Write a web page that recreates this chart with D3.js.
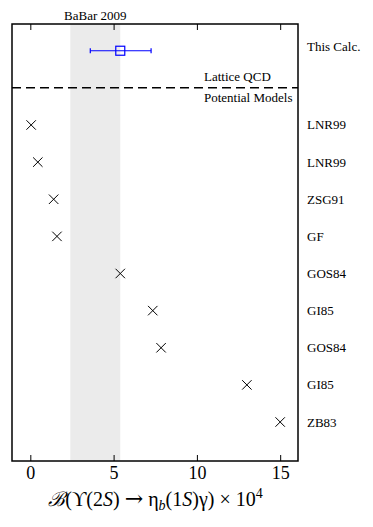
<!DOCTYPE html>
<html>
<head>
<meta charset="utf-8">
<script src="https://cdn.jsdelivr.net/npm/d3@7"></script>
<style>
body { margin: 0; background: #fff; }
text { font-family: "Liberation Serif", "Times New Roman", Times, serif; }
</style>
</head>
<body>
<div id="chart"></div>
<script>
//Data
let labels = ["ZB83", "GI85", "GOS84", "GI85", "GOS84", "GF", "ZSG91", "LNR99", "LNR99"];
let values = [15.0, 13.0, 7.85, 7.35, 5.4, 1.6, 1.4, 0.45, 0.05];
let calcLabel = "This Calc.";
let calcValue = 5.4;
let calcErr = [3.6, 7.25];
let babar = [2.4, 5.4];
let babarCenter = 3.9;
let xTicks = [0, 5, 10, 15];

//Dimensions
let width = 373;
let height = 527;
let plotLeft = 12, plotRight = 298, plotTop = 24, plotBottom = 461;
let calcRow = 10, splitRow = 9;

let svg = d3.select("#chart").append("svg")
	.attr("width", width)
	.attr("height", height);

let x = d3.scaleLinear().domain([-1.1, 16.07]).range([plotLeft, plotRight]);
let y = d3.scaleLinear().domain([-1.05, 10.72]).range([plotBottom, plotTop]);

//BaBar band
svg.append("rect")
	.attr("x", x(babar[0]))
	.attr("y", plotTop)
	.attr("width", x(babar[1]) - x(babar[0]))
	.attr("height", plotBottom - plotTop)
	.attr("fill", "#ebebeb");

svg.append("text")
	.attr("x", x(babarCenter))
	.attr("y", plotTop - 4)
	.attr("text-anchor", "middle")
	.style("font-size", "13px")
	.text("BaBar 2009");

//Dashed separator
svg.append("line")
	.attr("x1", plotLeft).attr("x2", plotRight)
	.attr("y1", y(splitRow)).attr("y2", y(splitRow))
	.attr("stroke", "black")
	.attr("stroke-width", 1.5)
	.attr("stroke-dasharray", "9,5");

svg.append("text")
	.attr("x", 204).attr("y", y(splitRow) - 7)
	.style("font-size", "13px")
	.text("Lattice QCD");

svg.append("text")
	.attr("x", 204).attr("y", y(splitRow) + 14)
	.style("font-size", "13px")
	.text("Potential Models");

//Crosses
let cross = d3.symbol().type(d3.symbolX).size(60);
svg.selectAll(".model")
		.data(values)
	.enter()
		.append("path")
			.attr("class", "model")
			.attr("d", cross)
			.attr("transform", function(d, i){
				return "translate(" + x(d) + "," + y(i) + ")";
			})
			.attr("fill", "none")
			.attr("stroke", "black")
			.attr("stroke-width", 1);

//This calculation, with error bar
let cy = y(calcRow);
svg.append("line")
	.attr("x1", x(calcErr[0])).attr("x2", x(calcErr[1]))
	.attr("y1", cy).attr("y2", cy)
	.attr("stroke", "blue").attr("stroke-width", 1.2);
svg.selectAll(".cap")
		.data(calcErr)
	.enter()
		.append("line")
			.attr("class", "cap")
			.attr("x1", d => x(d)).attr("x2", d => x(d))
			.attr("y1", cy - 2.5).attr("y2", cy + 2.5)
			.attr("stroke", "blue").attr("stroke-width", 1.2);
svg.append("rect")
	.attr("x", x(calcValue) - 4.5).attr("y", cy - 4.5)
	.attr("width", 9).attr("height", 9)
	.attr("fill", "none")
	.attr("stroke", "blue").attr("stroke-width", 1.2);

//Right labels
svg.selectAll(".rowlabel")
		.data(labels)
	.enter()
		.append("text")
			.attr("class", "rowlabel")
			.attr("x", 307)
			.attr("y", function(d, i){ return y(i) + 4.5; })
			.style("font-size", "13px")
			.text(d => d);

svg.append("text")
	.attr("x", 307)
	.attr("y", cy + 0.5)
	.style("font-size", "13px")
	.text(calcLabel);

//Frame
svg.append("rect")
	.attr("x", plotLeft).attr("y", plotTop)
	.attr("width", plotRight - plotLeft).attr("height", plotBottom - plotTop)
	.attr("fill", "none")
	.attr("stroke", "black")
	.attr("stroke-width", 1.5);

//Axes with inner ticks
let xAxis = svg.append("g")
	.attr("transform", "translate(0," + plotBottom + ")")
	.call(d3.axisBottom(x).tickValues(xTicks).tickSizeInner(-6).tickSizeOuter(0).tickPadding(5.5));
xAxis.select(".domain").remove();
xAxis.selectAll("text")
	.style("font-family", "'Liberation Serif', 'Times New Roman', serif")
	.style("font-size", "18px");

let xTop = svg.append("g")
	.attr("transform", "translate(0," + plotTop + ")")
	.call(d3.axisTop(x).tickValues(xTicks).tickSizeInner(-6).tickSizeOuter(0).tickFormat(""));
xTop.select(".domain").remove();

//Axis label
let lab = svg.append("text")
	.attr("x", 155.5)
	.attr("y", 506)
	.attr("text-anchor", "middle")
	.style("font-size", "20px");
lab.append("tspan").style("font-style", "italic").text("ℬ");
lab.append("tspan").text("(ϒ(2");
lab.append("tspan").style("font-style", "italic").text("S");
lab.append("tspan").text(")");
lab.append("tspan").attr("dx", 5).style("font-size", "22px").style("font-family", "'DejaVu Serif', serif").text("→");
lab.append("tspan").attr("dx", 5).text("η");
lab.append("tspan").style("font-style", "italic").style("font-size", "14px").attr("dy", 4).text("b");
lab.append("tspan").attr("dy", -4).text("(1");
lab.append("tspan").style("font-style", "italic").text("S");
lab.append("tspan").text(")γ)");
lab.append("tspan").attr("dx", 5).text("×");
lab.append("tspan").attr("dx", 5).text("10");
lab.append("tspan").style("font-size", "14px").attr("dy", -8).text("4");
</script>
</body>
</html>
